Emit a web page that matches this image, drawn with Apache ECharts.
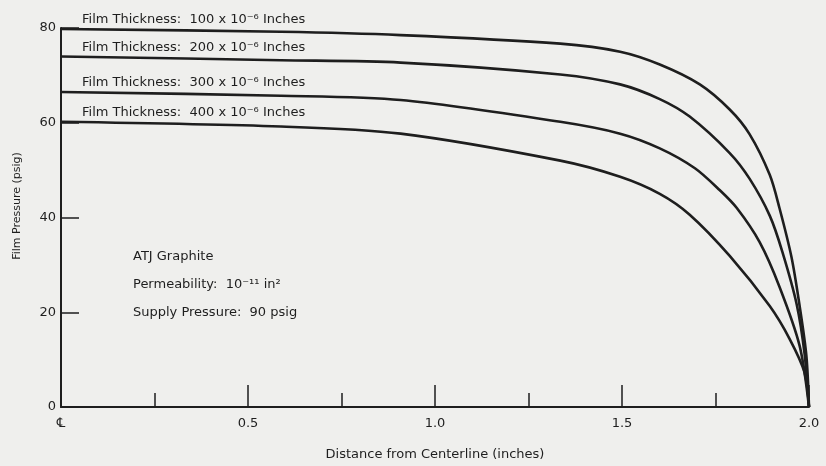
<!DOCTYPE html>
<html>
<head>
<meta charset="utf-8">
<script src="https://cdn.jsdelivr.net/npm/echarts@6/dist/echarts.min.js"></script>
<style>
html,body{margin:0;padding:0;background:#efefed;}
#c{width:826px;height:466px;}
</style>
</head>
<body>
<div id="c"></div>
<script>
// Distance from centerline (inches) vs film pressure (psig)
const thicknessLabels = ['100', '200', '300', '400'];
const film100 = [[0,79.8],[0.588,79.2],[0.908,78.5],[1.335,76.7],[1.495,75.0],[1.601,72.3],[1.708,68.1],[1.788,62.8],[1.841,57.6],[1.895,49.0],[1.921,42.0],[1.953,31.7],[1.975,21.3],[1.993,10.8],[2.0,0]];
const film200 = [[0,74.0],[0.588,73.2],[0.908,72.7],[1.335,70.2],[1.495,68.1],[1.601,65.0],[1.681,61.3],[1.788,53.6],[1.841,48.2],[1.895,40.4],[1.929,32.7],[1.967,21.7],[1.988,11.3],[2.0,0]];
const film300 = [[0,66.5],[0.588,65.7],[0.908,64.8],[1.335,60.2],[1.495,57.7],[1.601,54.6],[1.695,50.4],[1.761,45.8],[1.807,42.0],[1.868,34.8],[1.921,25.4],[1.975,12.9],[2.0,0]];
const film400 = [[0,60.2],[0.588,59.2],[0.908,57.7],[1.335,52.0],[1.495,48.6],[1.601,45.0],[1.681,40.6],[1.788,31.9],[1.895,21.3],[1.948,14.4],[1.988,7.3],[2.0,0]];
const xTicks = [0, 0.5, 1.0, 1.5, 2.0];
const yTicks = [0, 20, 40, 60, 80];

const FONT = 'DejaVu Sans';
const INK = '#1e1e1e';
const chart = echarts.init(document.getElementById('c'));
const allSeries = [film100, film200, film300, film400];

chart.setOption({
  backgroundColor: '#efefed',
  animation: false,
  grid: {left: 61, right: 17, top: 28, bottom: 54, containLabel: false},
  xAxis: {
    type: 'value', min: xTicks[0], max: xTicks[xTicks.length-1], interval: 0.5,
    name: 'Distance from Centerline (inches)', nameLocation: 'middle', nameGap: 41,
    nameTextStyle: {fontFamily: FONT, fontSize: 13, color: INK},
    axisLine: {lineStyle: {color: INK, width: 2}},
    axisTick: {inside: true, length: 22, lineStyle: {color: INK, width: 1.5}},
    minorTick: {show: true, splitNumber: 2, length: 14, lineStyle: {color: INK, width: 1.5}},
    splitLine: {show: false},
    axisLabel: {fontFamily: FONT, fontSize: 13, color: INK, margin: 10,
      formatter: v => v === 0 ? '℄' : v.toFixed(1)}
  },
  yAxis: {
    type: 'value', min: yTicks[0], max: yTicks[yTicks.length-1], interval: 20,
    axisLine: {show: true, lineStyle: {color: INK, width: 2}},
    axisTick: {show: true, inside: true, length: 18, lineStyle: {color: INK, width: 1.5}},
    splitLine: {show: false},
    axisLabel: {fontFamily: FONT, fontSize: 13, color: INK, margin: 5}
  },
  series: allSeries.map((d, i) => ({
    type: 'line', name: thicknessLabels[i], data: d,
    showSymbol: false, smooth: 0.3,
    lineStyle: {color: INK, width: 2.6}
  }))
});

// annotation labels positioned from the data via the chart's scales
const g = [];
allSeries.forEach((d, i) => {
  const p = chart.convertToPixel({gridIndex: 0}, [0, d[0][1]]);
  g.push({type: 'text', x: p[0] + 21, y: p[1] - 9,
    style: {text: 'Film Thickness:  ' + thicknessLabels[i] + ' x 10⁻⁶ Inches',
      fontFamily: FONT, fontSize: 13, fill: INK, verticalAlign: 'middle'}});
});
const notes = ['ATJ Graphite', 'Permeability:  10⁻¹¹ in²', 'Supply Pressure:  90 psig'];
notes.forEach((t, i) => {
  g.push({type: 'text', x: 133, y: 257 + i * 28,
    style: {text: t, fontFamily: FONT, fontSize: 13, fill: INK, verticalAlign: 'middle'}});
});
g.push({type: 'text', x: 17, y: 206, rotation: Math.PI / 2,
  style: {text: 'Film Pressure (psig)', fontFamily: FONT, fontSize: 11, fill: INK,
    align: 'center', verticalAlign: 'middle'}});
chart.setOption({graphic: g});
</script>
</body>
</html>
